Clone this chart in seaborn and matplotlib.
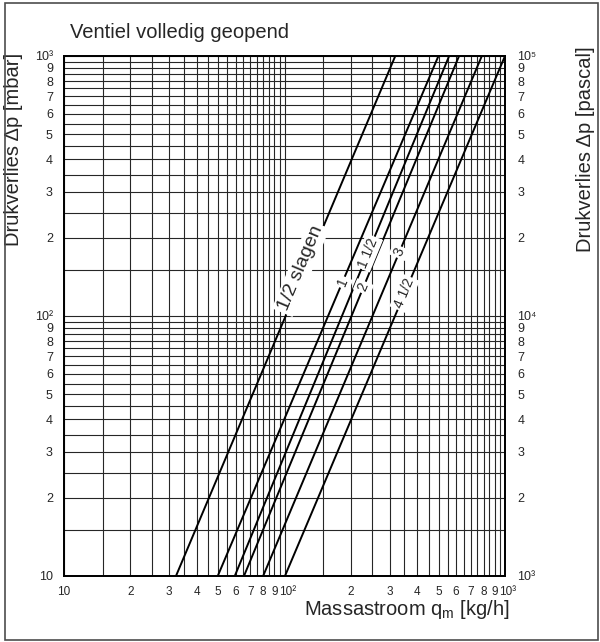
import numpy as np
import pandas as pd
import matplotlib
matplotlib.use("Agg")
import matplotlib.pyplot as plt
import matplotlib.patches as mpatches
import matplotlib.transforms as mtransforms
from matplotlib.ticker import FixedLocator, FixedFormatter, NullFormatter
import seaborn as sns

# turns of the valve, flow [kg/h] read where each line crosses 10 and 1000 mbar
slagen = ["1/2", "1", "1 1/2", "2", "3", "4 1/2"]
q_at_10 = [32.2, 49.8, 59.5, 65.5, 80.0, 100.5]
q_at_1000 = [318, 499, 558, 619, 785, 1000]
dp_ends = [10, 1000]
label_text = ["1/2 slagen", "1", "1 1/2", "2", "3", "4 1/2"]
label_dp = [150, 135, 175, 129, 176, 122]

x_ticks = [10, 20, 30, 40, 50, 60, 70, 80, 90, 100, 200, 300, 400, 500, 600, 700, 800, 900, 1000]
x_labels = ["10", "2", "3", "4", "5", "6", "7", "8", "9", "10\u00b2",
            "2", "3", "4", "5", "6", "7", "8", "9", "10\u00b3"]
y_labels = ["10", "2", "3", "4", "5", "6", "7", "8", "9", "10\u00b2",
            "2", "3", "4", "5", "6", "7", "8", "9", "10\u00b3"]
pa_labels = ["10\u00b3", "2", "3", "4", "5", "6", "7", "8", "9", "10\u2074",
             "2", "3", "4", "5", "6", "7", "8", "9", "10\u2075"]

rows = []
for s, a, b in zip(slagen, q_at_10, q_at_1000):
    rows.append({"slagen": s, "q": a, "dp": dp_ends[0]})
    rows.append({"slagen": s, "q": b, "dp": dp_ends[1]})
df = pd.DataFrame(rows)

sns.set_style("white")
plt.rcParams["font.family"] = ["Liberation Sans", "DejaVu Sans"]
plt.rcParams["mathtext.fontset"] = "custom"
plt.rcParams["mathtext.sf"] = "Liberation Sans"
plt.rcParams["mathtext.rm"] = "Liberation Sans"

tick_font = ["Liberation Sans Narrow", "Liberation Sans", "DejaVu Sans"]

fig = plt.figure(figsize=(6, 6.42), dpi=100)
ax = fig.add_axes([64 / 600, 66 / 642, 441 / 600, 520 / 642])
ax.set_xscale("log")
ax.set_yscale("log")
ax.set_xlim(10, 1000)
ax.set_ylim(10, 1000)

# grid every half unit inside each decade
steps = np.arange(1.0, 10.0, 0.5)
grid_vals = np.concatenate([10 * steps, 100 * steps, [1000]])
ax.xaxis.set_minor_locator(FixedLocator(grid_vals))
ax.yaxis.set_minor_locator(FixedLocator(grid_vals))
ax.xaxis.set_minor_formatter(NullFormatter())
ax.yaxis.set_minor_formatter(NullFormatter())
ax.grid(which="both", color="0.15", lw=0.8)
ax.set_axisbelow(True)

sns.lineplot(data=df, x="q", y="dp", units="slagen", estimator=None,
             color="black", lw=1.4, ax=ax, legend=False)

ax.xaxis.set_major_locator(FixedLocator(x_ticks))
ax.xaxis.set_major_formatter(FixedFormatter(x_labels))
ax.yaxis.set_major_locator(FixedLocator(x_ticks))
ax.yaxis.set_major_formatter(FixedFormatter(y_labels))
ax.tick_params(which="both", length=0, labelsize=9)
ax.tick_params(axis="x", pad=7, labelsize=8.5)
ax.tick_params(axis="y", pad=8)
for lab in ax.get_xticklabels() + ax.get_yticklabels():
    lab.set_family(tick_font)
# nudge the 10^n labels on x a bit right so they clear the 9
shift = mtransforms.ScaledTranslation(3 / 100, 0, fig.dpi_scale_trans)
for lab in ax.get_xticklabels():
    if lab.get_text().startswith("10") and lab.get_text() != "10":
        lab.set_transform(lab.get_transform() + shift)
for sp in ax.spines.values():
    sp.set_color("black")
    sp.set_linewidth(1.3)

ax2 = ax.twinx()
ax2.set_yscale("log")
ax2.set_ylim(1000, 100000)
ax2.yaxis.set_major_locator(FixedLocator([v * 100 for v in x_ticks]))
ax2.yaxis.set_major_formatter(FixedFormatter(pa_labels))
ax2.yaxis.set_minor_formatter(NullFormatter())
ax2.tick_params(which="both", length=0, labelsize=9, pad=9)
for lab in ax2.get_yticklabels():
    lab.set_family(tick_font)
for sp in ax2.spines.values():
    sp.set_color("black")
    sp.set_linewidth(1.3)

ax.set_xlabel("Massastroom q$_{\\mathsf{m}}$ [kg/h]", fontsize=14.5)
ax.xaxis.set_label_coords(1.01, -0.065)
ax.xaxis.label.set_ha("right")
ax.xaxis.label.set_va("center")
ax.set_ylabel("Drukverlies \u0394p [mbar]", fontsize=14.5)
ax.yaxis.set_label_coords(-0.092, 0.82)
ax2.set_ylabel("Drukverlies \u0394p [pascal]", fontsize=14.5)
ax2.yaxis.set_label_coords(1.16, 0.82)

# inline labels on each line
for s, a, b, txt, yd in zip(slagen, q_at_10, q_at_1000, label_text, label_dp):
    t = (np.log10(yd) - 1) / 2
    xq = 10 ** (np.log10(a) + t * (np.log10(b) - np.log10(a)))
    p1 = ax.transData.transform((a, 10))
    p2 = ax.transData.transform((b, 1000))
    ang = np.degrees(np.arctan2(p2[1] - p1[1], p2[0] - p1[0]))
    if txt.endswith("slagen"):
        ax.text(xq, yd, txt, rotation=ang, rotation_mode="anchor",
                ha="center", va="baseline", fontsize=14, zorder=5,
                bbox=dict(facecolor="white", edgecolor="none", pad=2))
    else:
        ax.text(xq, yd, txt, rotation=ang, rotation_mode="anchor",
                ha="center", va="center", fontsize=10, zorder=5,
                bbox=dict(facecolor="white", edgecolor="none", pad=1.5))

fig.text(70 / 600, 1 - 33 / 642, "Ventiel volledig geopend",
         ha="left", va="center", fontsize=14.5)

fig.patches.append(mpatches.Rectangle((4.5 / 600, 2 / 642), 593.5 / 600, 637 / 642,
                                      transform=fig.transFigure, fill=False,
                                      edgecolor="0.3", lw=1.2))

fig.savefig("out.png", dpi=100)
